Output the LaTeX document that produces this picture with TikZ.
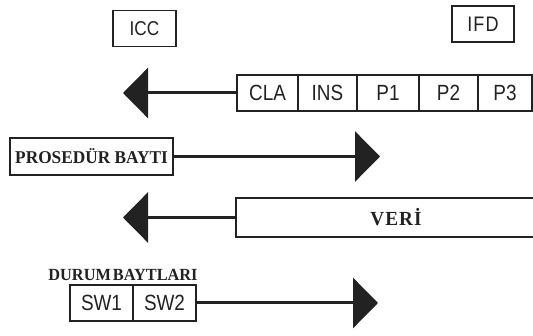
\documentclass[tikz,border=0pt]{standalone}
\usepackage{fontspec}
\usetikzlibrary{arrows.meta}
\newfontfamily\hsans[FakeStretch=0.86]{Liberation Sans}
\newfontfamily\tserif[FakeStretch=0.96]{Liberation Serif}
\definecolor{ink}{HTML}{222222}
\tikzset{
  box/.style={draw=ink, line width=1.4pt, inner sep=0pt, text=ink},
  cell/.style={box, minimum height=36pt, font=\hsans\fontsize{22}{22}\selectfont},
  tag/.style={box, minimum height=36pt, font=\hsans\fontsize{20}{20}\selectfont},
  serifbox/.style={box, font=\tserif\bfseries\fontsize{18}{18}\selectfont},
  flow/.style={draw=ink, line width=3pt, -{Triangle[length=25pt,width=50pt]}}
}
\begin{document}
\begin{tikzpicture}[x=1pt,y=-1pt]
\useasboundingbox (0,0) rectangle (533,336);
\clip (0,0) rectangle (533,336);
\fill[white] (0,0) rectangle (533,336);

% the two parties
\node[tag, minimum width=63pt] (icc) at (144.5,28.5) {ICC};
\node[tag, minimum width=62pt, font=\hsans\fontsize{21}{21}\selectfont] (ifd) at (483,24) {I\kern1ptF\kern1ptD};

% command header
\node[cell, minimum width=61pt] (cla) at (267.5,93) {CLA};
\node[cell, minimum width=59pt] (ins) at (327.5,93) {INS};
\node[cell, minimum width=62pt] (p1)  at (388,93)   {P1};
\node[cell, minimum width=59pt] (p2)  at (448.5,93) {P2};
\node[cell, minimum width=54pt] (p3)  at (505,93)   {P3};
\coordinate (t1) at (123,93);
\draw[flow] (cla.west) -- (t1);

% procedure byte
\node[serifbox, minimum width=163pt, minimum height=37pt] (pro) at (91.5,156.5) {PROSEDÜR BAYTI};
\coordinate (t2) at (380,156.5);
\draw[flow] (pro.east) -- (t2);

% data
\node[serifbox, minimum width=320pt, minimum height=39pt, font=\tserif\bfseries\fontsize{20}{20}\selectfont] (veri) at (396,217.5) {V\kern1ptE\kern1ptR\kern1ptİ};
\coordinate (t3) at (123,217.5);
\draw[flow] (veri.west) -- (t3);

% status bytes
\node[text=ink, inner sep=0pt, font=\tserif\bfseries\fontsize{17}{17}\selectfont] (durum) at (123,275) {DURUM\hspace{2pt}BAYTLARI};
\node[cell, minimum width=63pt] (sw1) at (101.5,303) {SW1};
\node[cell, minimum width=63pt] (sw2) at (164.5,303) {SW2};
\coordinate (t4) at (378,303);
\draw[flow] (sw2.east) -- (t4);
\end{tikzpicture}
\end{document}
